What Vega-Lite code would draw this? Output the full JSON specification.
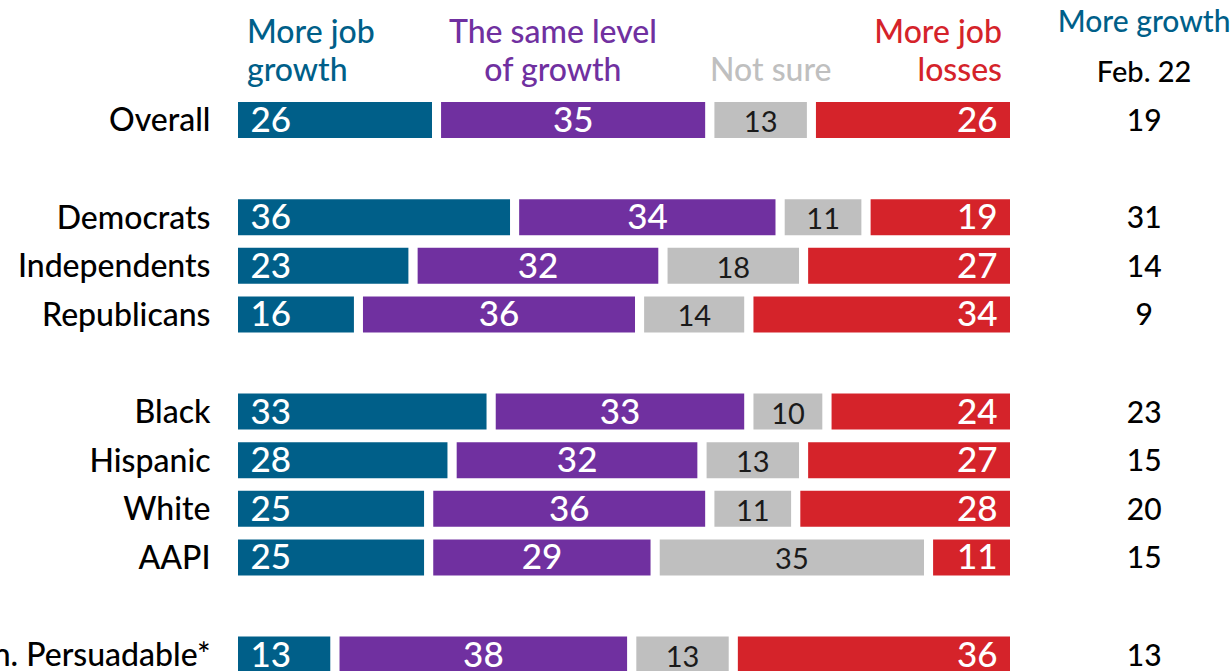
{
  "$schema": "https://vega.github.io/schema/vega-lite/v6.json",
  "width": 781,
  "height": 671,
  "autosize": {"type": "none"},
  "padding": {"left": 233.5, "top": 0, "right": 215.5, "bottom": 0},
  "background": "white",
  "config": {"view": {"stroke": null}, "font": "Lato"},
  "datasets": {
    "bars": [
      {"row": "Overall", "response": "More job growth", "ord": 1, "pct": 26},
      {"row": "Overall", "response": "The same level of growth", "ord": 2, "pct": 35},
      {"row": "Overall", "response": "Not sure", "ord": 3, "pct": 13},
      {"row": "Overall", "response": "More job losses", "ord": 4, "pct": 26},
      {"row": "Democrats", "response": "More job growth", "ord": 1, "pct": 36},
      {"row": "Democrats", "response": "The same level of growth", "ord": 2, "pct": 34},
      {"row": "Democrats", "response": "Not sure", "ord": 3, "pct": 11},
      {"row": "Democrats", "response": "More job losses", "ord": 4, "pct": 19},
      {"row": "Independents", "response": "More job growth", "ord": 1, "pct": 23},
      {"row": "Independents", "response": "The same level of growth", "ord": 2, "pct": 32},
      {"row": "Independents", "response": "Not sure", "ord": 3, "pct": 18},
      {"row": "Independents", "response": "More job losses", "ord": 4, "pct": 27},
      {"row": "Republicans", "response": "More job growth", "ord": 1, "pct": 16},
      {"row": "Republicans", "response": "The same level of growth", "ord": 2, "pct": 36},
      {"row": "Republicans", "response": "Not sure", "ord": 3, "pct": 14},
      {"row": "Republicans", "response": "More job losses", "ord": 4, "pct": 34},
      {"row": "Black", "response": "More job growth", "ord": 1, "pct": 33},
      {"row": "Black", "response": "The same level of growth", "ord": 2, "pct": 33},
      {"row": "Black", "response": "Not sure", "ord": 3, "pct": 10},
      {"row": "Black", "response": "More job losses", "ord": 4, "pct": 24},
      {"row": "Hispanic", "response": "More job growth", "ord": 1, "pct": 28},
      {"row": "Hispanic", "response": "The same level of growth", "ord": 2, "pct": 32},
      {"row": "Hispanic", "response": "Not sure", "ord": 3, "pct": 13},
      {"row": "Hispanic", "response": "More job losses", "ord": 4, "pct": 27},
      {"row": "White", "response": "More job growth", "ord": 1, "pct": 25},
      {"row": "White", "response": "The same level of growth", "ord": 2, "pct": 36},
      {"row": "White", "response": "Not sure", "ord": 3, "pct": 11},
      {"row": "White", "response": "More job losses", "ord": 4, "pct": 28},
      {"row": "AAPI", "response": "More job growth", "ord": 1, "pct": 25},
      {"row": "AAPI", "response": "The same level of growth", "ord": 2, "pct": 29},
      {"row": "AAPI", "response": "Not sure", "ord": 3, "pct": 35},
      {"row": "AAPI", "response": "More job losses", "ord": 4, "pct": 11},
      {"row": "Gen. Persuadable*", "response": "More job growth", "ord": 1, "pct": 13},
      {"row": "Gen. Persuadable*", "response": "The same level of growth", "ord": 2, "pct": 38},
      {"row": "Gen. Persuadable*", "response": "Not sure", "ord": 3, "pct": 13},
      {"row": "Gen. Persuadable*", "response": "More job losses", "ord": 4, "pct": 36}
    ],
    "trend": [
      {"row": "Overall", "feb": 19},
      {"row": "Democrats", "feb": 31},
      {"row": "Independents", "feb": 14},
      {"row": "Republicans", "feb": 9},
      {"row": "Black", "feb": 23},
      {"row": "Hispanic", "feb": 15},
      {"row": "White", "feb": 20},
      {"row": "AAPI", "feb": 15},
      {"row": "Gen. Persuadable*", "feb": 13}
    ]
  },
  "layer": [
    {
      "data": {"name": "bars"},
      "mark": {"type": "bar", "stroke": "white", "strokeWidth": 9},
      "encoding": {
        "y": {
          "field": "row", "type": "nominal",
          "scale": {
            "domain": ["hdr", "Overall", "g1", "Democrats", "Independents", "Republicans", "g2", "Black", "Hispanic", "White", "AAPI", "g3", "Gen. Persuadable*"],
            "range": [48.9, 677.1], "paddingInner": 0.0741, "paddingOuter": 0
          },
          "axis": {
            "title": null, "domain": false, "ticks": false, "grid": false,
            "labelFont": "Lato", "labelFontSize": 32, "labelFontWeight": 500, "labelColor": "#000000",
            "labelPadding": 23.5, "labelBaseline": "alphabetic", "labelOffset": 11.5,
            "labelLimit": 500, "labelOverlap": false,
            "labelExpr": "indexof(['hdr','g1','g2','g3'], datum.value) >= 0 ? '' : datum.value"
          }
        },
        "x": {"field": "pct", "type": "quantitative", "stack": "zero", "scale": {"domain": [0, 100], "nice": false, "zero": false}, "axis": null},
        "color": {
          "field": "response", "type": "nominal",
          "scale": {"domain": ["More job growth", "The same level of growth", "Not sure", "More job losses"], "range": ["#005F89", "#7030A0", "#BFBFBF", "#D5232A"]},
          "legend": null
        },
        "order": {"field": "ord", "type": "quantitative"}
      }
    },
    {
      "data": {"name": "bars"},
      "mark": {"type": "text", "align": "left", "baseline": "alphabetic", "dx": 17, "dy": 12, "fontSize": 35, "fontWeight": 500, "color": "white"},
      "encoding": {
        "y": {"field": "row", "type": "nominal"},
        "x": {"field": "pct", "type": "quantitative", "stack": "zero", "bandPosition": 0},
        "detail": {"field": "response", "type": "nominal"},
        "order": {"field": "ord", "type": "quantitative"},
        "text": {"condition": {"test": "datum.ord == 1", "field": "pct", "type": "quantitative"}, "value": ""}
      }
    },
    {
      "data": {"name": "bars"},
      "mark": {"type": "text", "align": "center", "baseline": "alphabetic", "dy": 12, "fontSize": 35, "fontWeight": 500, "color": "white"},
      "encoding": {
        "y": {"field": "row", "type": "nominal"},
        "x": {"field": "pct", "type": "quantitative", "stack": "zero", "bandPosition": 0.5},
        "detail": {"field": "response", "type": "nominal"},
        "order": {"field": "ord", "type": "quantitative"},
        "text": {"condition": {"test": "datum.ord == 2", "field": "pct", "type": "quantitative"}, "value": ""}
      }
    },
    {
      "data": {"name": "bars"},
      "mark": {"type": "text", "align": "center", "baseline": "alphabetic", "dy": 12, "fontSize": 29, "fontWeight": 400, "color": "#1a1a1a"},
      "encoding": {
        "y": {"field": "row", "type": "nominal"},
        "x": {"field": "pct", "type": "quantitative", "stack": "zero", "bandPosition": 0.5},
        "detail": {"field": "response", "type": "nominal"},
        "order": {"field": "ord", "type": "quantitative"},
        "text": {"condition": {"test": "datum.ord == 3", "field": "pct", "type": "quantitative"}, "value": ""}
      }
    },
    {
      "data": {"name": "bars"},
      "mark": {"type": "text", "align": "right", "baseline": "alphabetic", "dx": -17, "dy": 12, "fontSize": 35, "fontWeight": 500, "color": "white"},
      "encoding": {
        "y": {"field": "row", "type": "nominal"},
        "x": {"field": "pct", "type": "quantitative", "stack": "zero", "bandPosition": 1},
        "detail": {"field": "response", "type": "nominal"},
        "order": {"field": "ord", "type": "quantitative"},
        "text": {"condition": {"test": "datum.ord == 4", "field": "pct", "type": "quantitative"}, "value": ""}
      }
    },
    {
      "data": {"name": "trend"},
      "mark": {"type": "text", "align": "center", "baseline": "alphabetic", "dy": 11, "fontSize": 30, "fontWeight": 500, "color": "#000000"},
      "encoding": {
        "y": {"field": "row", "type": "nominal"},
        "x": {"datum": 116.6, "type": "quantitative"},
        "text": {"field": "feb", "type": "quantitative"}
      }
    },
    {
      "data": {"values": [{}]},
      "mark": {"type": "text", "text": "More job\ngrowth", "lineBreak": "\n", "lineHeight": 37.5, "align": "left", "baseline": "alphabetic", "dy": -28, "fontSize": 32, "fontWeight": 500, "color": "#005F89"},
      "encoding": {"x": {"datum": 1.73, "type": "quantitative"}, "y": {"datum": "hdr", "type": "nominal"}}
    },
    {
      "data": {"values": [{}]},
      "mark": {"type": "text", "text": "The same level\nof growth", "lineBreak": "\n", "lineHeight": 37.5, "align": "center", "baseline": "alphabetic", "dy": -28, "fontSize": 32, "fontWeight": 500, "color": "#7030A0"},
      "encoding": {"x": {"datum": 40.9, "type": "quantitative"}, "y": {"datum": "hdr", "type": "nominal"}}
    },
    {
      "data": {"values": [{}]},
      "mark": {"type": "text", "text": "Not sure", "align": "center", "baseline": "alphabetic", "dy": 10, "fontSize": 32, "fontWeight": 500, "color": "#BFBFBF"},
      "encoding": {"x": {"datum": 68.8, "type": "quantitative"}, "y": {"datum": "hdr", "type": "nominal"}}
    },
    {
      "data": {"values": [{}]},
      "mark": {"type": "text", "text": "More job\nlosses", "lineBreak": "\n", "lineHeight": 37.5, "align": "right", "baseline": "alphabetic", "dy": -28, "fontSize": 32, "fontWeight": 500, "color": "#D5232A"},
      "encoding": {"x": {"datum": 98.4, "type": "quantitative"}, "y": {"datum": "hdr", "type": "nominal"}}
    },
    {
      "data": {"values": [{}]},
      "mark": {"type": "text", "text": "More growth", "align": "center", "baseline": "alphabetic", "dy": -39.7, "fontSize": 30, "fontWeight": 500, "color": "#005F89"},
      "encoding": {"x": {"datum": 116.6, "type": "quantitative"}, "y": {"datum": "hdr", "type": "nominal"}}
    },
    {
      "data": {"values": [{}]},
      "mark": {"type": "text", "text": "Feb. 22", "align": "center", "baseline": "alphabetic", "dy": 10.3, "fontSize": 29, "fontWeight": 500, "color": "#000000"},
      "encoding": {"x": {"datum": 116.6, "type": "quantitative"}, "y": {"datum": "hdr", "type": "nominal"}}
    }
  ]
}
